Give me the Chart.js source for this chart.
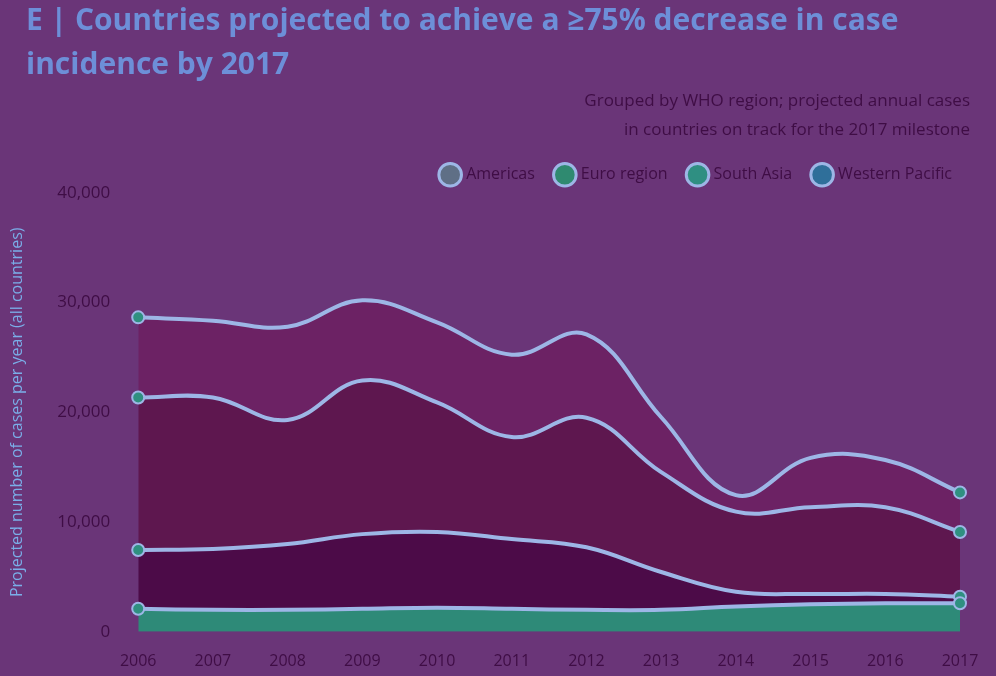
<!DOCTYPE html>
<html>
<head>
<meta charset="utf-8">
<script src="https://cdn.jsdelivr.net/npm/chart.js@4/dist/chart.umd.min.js"></script>
<style>
  html,body{margin:0;padding:0;background:#6a3578;}
  #wrap{width:996px;height:676px;}
</style>
</head>
<body>
<div id="wrap"><canvas id="c" width="996" height="676"></canvas></div>
<script>
const years = ["2006","2007","2008","2009","2010","2011","2012","2013","2014","2015","2016","2017"];
const seriesNames = ["Americas","Euro region","South Asia","Western Pacific"];
const seriesA = [2100, 2000, 2000, 2100, 2200, 2100, 2000, 2000, 2300, 2500, 2600, 2600];
const seriesB = [5350, 5550, 6000, 6800, 6900, 6350, 5700, 3450, 1350, 950, 850, 600];
const seriesC = [13900, 13800, 11300, 14000, 11800, 9300, 11800, 9100, 7300, 7900, 7900, 5900];
const seriesD = [7300, 7000, 8500, 7300, 7300, 7500, 7600, 5000, 1500, 4500, 4300, 3600];
const yTicks = [0, 10000, 20000, 30000, 40000];

const fills = ["#2e8a78", "#4c0b48", "#5e174f", "#6c2264"];
const markerFills = ["#5f6f86", "#2f8a70", "#2f8f82", "#2f6f9a"];
const lineColor = "#9db6e6";
const last = years.length - 1;

const bgPlugin = {
  id: 'bg',
  beforeDraw(chart) {
    const ctx = chart.ctx;
    ctx.save();
    ctx.fillStyle = '#6a3578';
    ctx.fillRect(0, 0, chart.width, chart.height);
    ctx.restore();
  },
  afterLayout(chart) {
    if (chart.titleBlock) { chart.titleBlock.left += 22; chart.titleBlock.right += 22; }
    const sub = chart.boxes.find(b => b.options && b.options.text && b !== chart.titleBlock && b.constructor && b.constructor.name !== 'Legend' && b.options.align === 'end' && !b.legendItems);
    if (sub) { sub.left += 10; sub.right += 10; }
    if (chart.legend) { chart.legend.left += 14; chart.legend.right += 14; }
  }
};

function ds(label, data, i) {
  return {
    label: label,
    data: data,
    backgroundColor: fills[i],
    borderColor: lineColor,
    borderWidth: 4,
    fill: i === 0 ? 'origin' : '-1',
    tension: 0.4,
    pointRadius: ctx => (ctx.dataIndex === 0 || ctx.dataIndex === last) ? 6 : 0,
    pointBackgroundColor: "#2f9080",
    pointBorderColor: lineColor,
    pointBorderWidth: 2
  };
}

new Chart(document.getElementById('c'), {
  type: 'line',
  data: {
    labels: years,
    datasets: [
      ds(seriesNames[0], seriesA, 0),
      ds(seriesNames[1], seriesB, 1),
      ds(seriesNames[2], seriesC, 2),
      ds(seriesNames[3], seriesD, 3)
    ]
  },
  options: {
    responsive: false,
    animation: false,
    layout: { padding: { left: 4, right: 36, top: 0, bottom: -7 } },
    plugins: {
      title: {
        display: true,
        text: ["E | Countries projected to achieve a ≥75% decrease in case", "incidence by 2017"],
        align: 'start',
        color: '#6d8fd8',
        font: { family: 'Open Sans', size: 30, weight: 'bold', lineHeight: 1.45 },
        padding: { top: 0, bottom: 0 }
      },
      subtitle: {
        display: true,
        text: ["Grouped by WHO region; projected annual cases", "in countries on track for the 2017 milestone"],
        align: 'end',
        color: '#3f0d45',
        font: { family: 'Open Sans', size: 17, lineHeight: 1.7 },
        padding: { top: 0, bottom: 0 }
      },
      legend: {
        display: true,
        align: 'end',
        labels: {
          color: '#3f0d45',
          font: { family: 'Open Sans', size: 16 },
          usePointStyle: true,
          pointStyle: 'circle',
          boxWidth: 18,
          boxHeight: 18,
          padding: 22,
          generateLabels(chart) {
            return chart.data.datasets.map((d, i) => ({
              text: d.label,
              fillStyle: markerFills[i],
              strokeStyle: lineColor,
              lineWidth: 3,
              pointStyle: 'circle',
              fontColor: '#3f0d45',
              hidden: false,
              datasetIndex: i
            }));
          }
        }
      },
      tooltip: { enabled: false }
    },
    scales: {
      x: {
        grid: { display: false },
        border: { display: false },
        ticks: { color: '#3f0d45', font: { family: 'Open Sans', size: 16 }, maxRotation: 0, padding: 12 }
      },
      y: {
        stacked: true,
        min: 0,
        max: 40000,
        grid: { display: false },
        border: { display: false },
        afterBuildTicks(axis) { axis.ticks = yTicks.map(v => ({ value: v })); },
        ticks: {
          color: '#3f0d45',
          font: { family: 'Open Sans', size: 17 },
          padding: 20,
          callback: v => v.toLocaleString('en-US')
        },
        title: {
          display: true,
          text: 'Projected number of cases per year (all countries)',
          color: '#7aaee8',
          font: { family: 'Open Sans', size: 16 },
          padding: { top: 4, bottom: 10 }
        }
      }
    }
  },
  plugins: [bgPlugin]
});
</script>
</body>
</html>
